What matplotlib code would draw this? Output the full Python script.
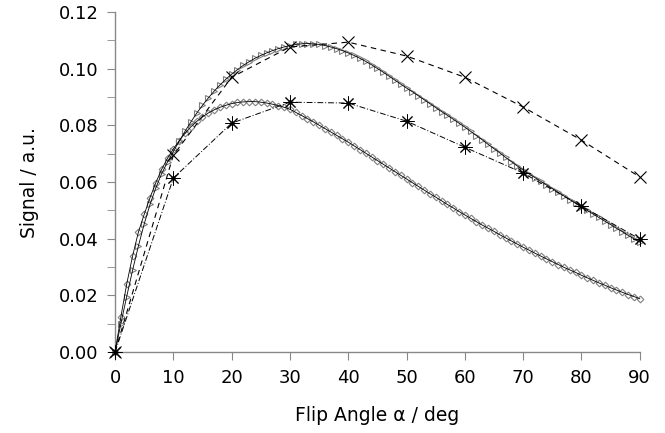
import numpy as np
import matplotlib.pyplot as plt

# ----------- DATA -----------------------------------------------------------
angle_fine = np.arange(0, 91)          # deg, 1 degree steps
angle_coarse = np.arange(0, 91, 10)    # deg, 10 degree steps

signal_diamond = [
    0.0000, 0.0124, 0.0240, 0.0338, 0.0423, 0.0486, 0.0545, 0.0598, 0.0645, 0.0684,
    0.0717, 0.0746, 0.0772, 0.0795, 0.0814, 0.0830, 0.0844, 0.0855, 0.0864, 0.0871,
    0.0877, 0.0881, 0.0883, 0.0884, 0.0884, 0.0882, 0.0879, 0.0875, 0.0870, 0.0864,
    0.0857, 0.0846, 0.0835, 0.0824, 0.0813, 0.0801, 0.0789, 0.0777, 0.0765, 0.0753,
    0.0741, 0.0728, 0.0715, 0.0702, 0.0689, 0.0676, 0.0663, 0.0650, 0.0637, 0.0624,
    0.0611, 0.0598, 0.0585, 0.0572, 0.0559, 0.0547, 0.0534, 0.0521, 0.0509, 0.0496,
    0.0484, 0.0472, 0.0460, 0.0448, 0.0437, 0.0426, 0.0414, 0.0403, 0.0392, 0.0381,
    0.0370, 0.0360, 0.0349, 0.0339, 0.0329, 0.0319, 0.0309, 0.0299, 0.0290, 0.0281,
    0.0271, 0.0262, 0.0253, 0.0244, 0.0236, 0.0227, 0.0219, 0.0211, 0.0203, 0.0196,
    0.0188,
]

signal_triangle = [
    0.0000, 0.0100, 0.0196, 0.0288, 0.0374, 0.0452, 0.0521, 0.0580, 0.0630, 0.0671,
    0.0708, 0.0744, 0.0779, 0.0812, 0.0843, 0.0871, 0.0897, 0.0921, 0.0943, 0.0963,
    0.0981, 0.0997, 0.1012, 0.1025, 0.1037, 0.1047, 0.1056, 0.1064, 0.1071, 0.1077,
    0.1082, 0.1086, 0.1088, 0.1089, 0.1088, 0.1086, 0.1082, 0.1077, 0.1071, 0.1064,
    0.1056, 0.1047, 0.1037, 0.1026, 0.1014, 0.1001, 0.0988, 0.0974, 0.0960, 0.0946,
    0.0932, 0.0919, 0.0905, 0.0891, 0.0877, 0.0863, 0.0849, 0.0836, 0.0822, 0.0808,
    0.0794, 0.0779, 0.0764, 0.0749, 0.0733, 0.0718, 0.0703, 0.0687, 0.0672, 0.0657,
    0.0642, 0.0629, 0.0616, 0.0603, 0.0590, 0.0577, 0.0564, 0.0551, 0.0538, 0.0525,
    0.0512, 0.0500, 0.0487, 0.0475, 0.0462, 0.0450, 0.0437, 0.0425, 0.0412, 0.0400,
    0.0388,
]

signal_cross = [0.0, 0.0695, 0.0970, 0.1077, 0.1094, 0.1045, 0.0970, 0.0865, 0.0748, 0.0618]
signal_star = [0.0, 0.0614, 0.0808, 0.0882, 0.0879, 0.0815, 0.0723, 0.0632, 0.0515, 0.0399]

x_ticks = [0, 10, 20, 30, 40, 50, 60, 70, 80, 90]
y_ticks = [0.00, 0.02, 0.04, 0.06, 0.08, 0.10, 0.12]
# ----------------------------------------------------------------------------

plt.rcParams['font.family'] = ['DejaVu Sans']

fig = plt.figure(figsize=(6.65, 4.33), dpi=100)
ax = fig.add_axes([0.173, 0.187, 0.789, 0.785])

gray = "#808080"

# open markers first, the thin black curve drawn over them
ax.plot(angle_fine, signal_diamond, ls="none", marker="D", ms=3.4,
        mfc="white", mec=gray, mew=0.8, clip_on=False, zorder=2)
ax.plot(angle_fine, signal_triangle, ls="none", marker=">", ms=5,
        mfc="white", mec=gray, mew=0.8, clip_on=False, zorder=2)
ax.plot(angle_fine, signal_diamond, color="black", lw=0.6, clip_on=False, zorder=3)
ax.plot(angle_fine, signal_triangle, color="black", lw=0.6, clip_on=False, zorder=3)

ax.plot(angle_coarse, signal_cross, color="black", lw=0.8, ls=(0, (5, 4)),
        marker="x", ms=9, mew=0.8, clip_on=False, zorder=4)
ax.plot(angle_coarse, signal_star, color="black", lw=0.7, ls=(0, (6, 2, 1, 2)),
        marker=(8, 2, 0), ms=10, mew=0.7, clip_on=False, zorder=4)
ax.plot(angle_coarse, signal_star, ls="none", marker="o", ms=2.2, color="black",
        clip_on=False, zorder=5)

ax.set_xlim(0, 90)
ax.set_ylim(0, 0.12)
ax.set_xticks(x_ticks)
ax.set_yticks(y_ticks)
ax.set_yticklabels([f"{v:.2f}" for v in y_ticks])
ax.set_yticks(np.arange(0.01, 0.12, 0.02), minor=True)

for side in ["top", "right"]:
    ax.spines[side].set_visible(False)
for side in ["left", "bottom"]:
    ax.spines[side].set_color("#888888")
    ax.spines[side].set_linewidth(1.0)

ax.tick_params(axis="both", which="both", direction="out", color="#888888",
               labelsize=13, pad=6)
ax.tick_params(axis="both", which="major", length=6)
ax.tick_params(axis="y", which="minor", length=6)

ax.set_xlabel("Flip Angle α / deg", fontsize=13.5, labelpad=14)
ax.set_ylabel("Signal / a.u.", fontsize=13.5, labelpad=14)

fig.savefig("out.png", dpi=100)
